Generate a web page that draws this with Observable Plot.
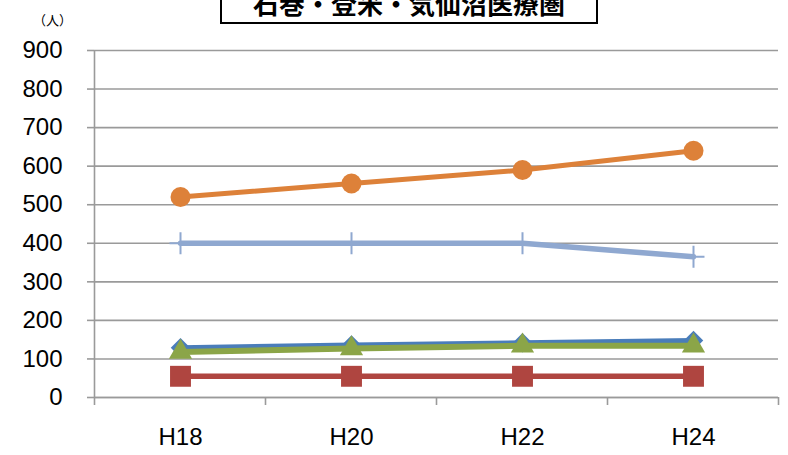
<!DOCTYPE html>
<html>
<head>
<meta charset="utf-8">
<script src="https://cdn.jsdelivr.net/npm/d3@7"></script>
<script src="https://cdn.jsdelivr.net/npm/@observablehq/plot@0.6"></script>
<style>
  html, body { margin: 0; padding: 0; background: #fff; }
  #wrap { position: relative; width: 788px; height: 455px; overflow: hidden; }
  #title {
    position: absolute; left: 220px; top: -22px; width: 378px; height: 46px;
    box-sizing: border-box; border: 2px solid #000; background: #fff;
    text-align: center; font: bold 26px "Noto Sans CJK JP", sans-serif; line-height: 46px;
    color: #000; z-index: 2; white-space: nowrap;
  }
  #unit {
    position: absolute; left: 33px; top: 10px;
    font: 13px "Noto Sans CJK JP", sans-serif; color: #000; z-index: 2;
  }
  #chart { position: absolute; left: 0; top: 0; }
</style>
</head>
<body>
<div id="wrap">
  <div id="title">石巻・登米・気仙沼医療圏</div>
  <div id="unit">（人）</div>
  <div id="chart"></div>
</div>
<script>
const years = ["H18", "H20", "H22", "H24"];
const orangeVals = [520, 555, 590, 640];
const lightBlueVals = [400, 400, 400, 365];
const darkBlueVals = [129, 136, 142, 148];
const greenVals = [118, 127, 134, 134];
const redVals = [55, 55, 55, 55];
const yTicks = [0, 100, 200, 300, 400, 500, 600, 700, 800, 900];

const colors = {
  orange: "#DD8139",
  lightBlue: "#8FA8D0",
  darkBlue: "#4A7DBA",
  green: "#8BA548",
  red: "#AF4540"
};

const rows = (vals) => years.map((y, i) => ({year: y, value: vals[i]}));
const orange = rows(orangeVals);
const lightBlue = rows(lightBlueVals);
const darkBlue = rows(darkBlueVals);
const green = rows(greenVals);
const red = rows(redVals);

const plusSymbol = {
  draw(context, size) {
    const h = Math.sqrt(size) * 0.62;
    context.moveTo(0, -h); context.lineTo(0, h);
    context.moveTo(-h, 0); context.lineTo(h, 0);
  }
};

const gridColor = "#9a9a9a";

const plot = Plot.plot({
  width: 788,
  height: 455,
  marginLeft: 94,
  marginRight: 10,
  marginTop: 50,
  marginBottom: 58,
  style: {fontFamily: "'Liberation Sans', Arial, sans-serif", fontSize: "24px", color: "#000", background: "transparent"},
  x: {type: "point", domain: years, padding: 0.5, label: null},
  y: {domain: [0, 900], label: null},
  marks: [
    Plot.gridY(yTicks, {stroke: gridColor, strokeOpacity: 1, strokeWidth: 1.6}),
    Plot.axisY(yTicks, {tickSize: 7, tickPadding: 25, stroke: gridColor, strokeWidth: 1.6, fill: "#000", fontSize: 24, label: null}),
    Plot.axisX({tickSize: 0, tickPadding: 30, fill: "#000", fontSize: 24, label: null}),
    Plot.ruleY([0], {stroke: gridColor, strokeWidth: 1.6}),
    // dark blue series
    Plot.line(darkBlue, {x: "year", y: "value", stroke: colors.darkBlue, strokeWidth: 5}),
    Plot.dot(darkBlue, {x: "year", y: "value", symbol: "diamond2", r: 8.8, fill: colors.darkBlue, stroke: "none"}),
    // red series
    Plot.line(red, {x: "year", y: "value", stroke: colors.red, strokeWidth: 5.5}),
    Plot.dot(red, {x: "year", y: "value", symbol: "square", r: 11.8, fill: colors.red, stroke: "none"}),
    // green series
    Plot.line(green, {x: "year", y: "value", stroke: colors.green, strokeWidth: 6}),
    Plot.dot(green, {x: "year", y: "value", symbol: "triangle", r: 8.6, fill: colors.green, stroke: "none"}),
    // light blue series
    Plot.line(lightBlue, {x: "year", y: "value", stroke: colors.lightBlue, strokeWidth: 5.5}),
    Plot.dot(lightBlue, {x: "year", y: "value", symbol: plusSymbol, r: 10, fill: "none", stroke: colors.lightBlue, strokeWidth: 2}),
    // orange series
    Plot.line(orange, {x: "year", y: "value", stroke: colors.orange, strokeWidth: 5}),
    Plot.dot(orange, {x: "year", y: "value", r: 10, fill: colors.orange, stroke: "none"})
  ]
});

// vertical axis line and category boundary ticks, positioned through the plot's scales
const sx = plot.scale("x");
const sy = plot.scale("y");
const xs = years.map(d => sx.apply(d));
const step = xs[1] - xs[0];
const bounds = [...xs.map(x => x - step / 2), xs[xs.length - 1] + step / 2];
const y0 = sy.apply(0);
const yTop = sy.apply(900);
const svg = d3.select(plot);
const g = svg.append("g").attr("stroke", gridColor).attr("stroke-width", 1.6);
g.append("line").attr("x1", bounds[0]).attr("x2", bounds[0]).attr("y1", yTop).attr("y2", y0 + 8);
bounds.slice(1).forEach(b => {
  g.append("line").attr("x1", b).attr("x2", b).attr("y1", y0).attr("y2", y0 + 8);
});

document.getElementById("chart").appendChild(plot);
</script>
</body>
</html>
